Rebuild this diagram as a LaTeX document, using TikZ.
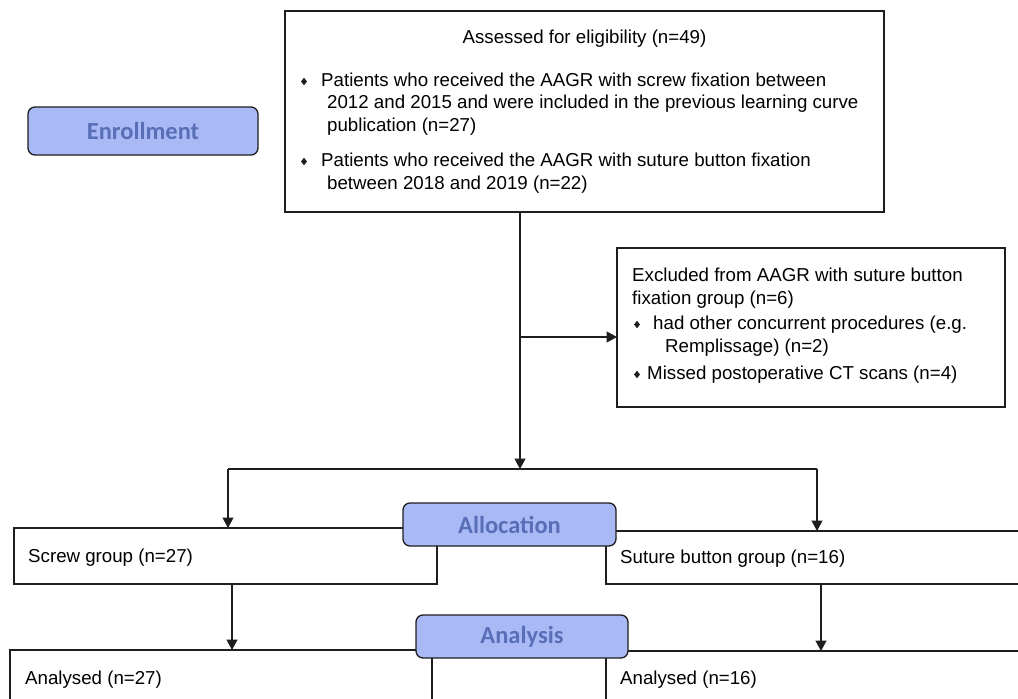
\documentclass[tikz,border=0pt]{standalone}
\usepackage{fontspec}
\setmainfont{Liberation Sans}
\newfontfamily\hdrfont{Carlito}
\usetikzlibrary{arrows.meta}
\definecolor{hdrfill}{RGB}{169,185,245}
\definecolor{hdrtext}{RGB}{88,110,182}
\definecolor{ln}{RGB}{30,30,30}
\tikzset{
  flowbox/.style={draw=ln, line width=1.3pt, fill=white},
  hdrbox/.style={draw=ln, line width=1.3pt, fill=hdrfill, rounded corners=7pt},
  hdrlabel/.style={font=\hdrfont\bfseries\fontsize{24.5}{28}\selectfont, text=hdrtext, inner sep=0pt},
  txt/.style={font=\fontsize{18.7}{22}\selectfont, inner sep=0pt, anchor=base west},
  conn/.style={draw=ln, line width=1.3pt},
  arr/.style={conn, -{Triangle[length=10.5pt,width=11pt]}},
  bul/.style={fill=ln}
}
\newcommand\diambul[1]{\fill[bul] (#1) ++(0,-0.8) -- ++(3,-3.7) -- ++(-3,-3.7) -- ++(-3,3.7) -- cycle;}
\begin{document}
\begin{tikzpicture}[x=1pt,y=-1pt]
\clip (0,0) rectangle (1018,699);
\fill[white] (0,0) rectangle (1018,699);

% ---------- boxes ----------
\path[flowbox] (285,11) rectangle (884,212);
\node[inner sep=0pt, minimum width=599pt, minimum height=201pt, anchor=north west] (top) at (285,11) {};
\path[flowbox] (617,248) rectangle (1005,407);
\node[inner sep=0pt, minimum width=388pt, minimum height=159pt, anchor=north west] (excl) at (617,248) {};
\path[flowbox] (14,528) rectangle (437,584);
\node[inner sep=0pt, minimum width=423pt, minimum height=56pt, anchor=north west] (screw) at (14,528) {};
\path[flowbox] (606,531) rectangle (1030,584);
\node[inner sep=0pt, minimum width=424pt, minimum height=53pt, anchor=north west] (suture) at (606,531) {};
\path[flowbox] (10,650) rectangle (432,720);
\node[inner sep=0pt, minimum width=422pt, minimum height=70pt, anchor=north west] (anL) at (10,650) {};
\path[flowbox] (606,651) rectangle (1030,720);
\node[inner sep=0pt, minimum width=424pt, minimum height=69pt, anchor=north west] (anR) at (606,651) {};

% ---------- texts ----------
\node[txt, anchor=base] (t0) at (584.5,43) {Assessed for eligibility (n=49)};
\diambul{304,86}
\node[txt] (t1) at (321,86) {Patients who received the AAGR with screw fixation between};
\node[txt] (t2) at (327,108.5) {2012 and 2015 and were included in the previous learning curve};
\node[txt] (t3) at (327,131) {publication (n=27)};
\diambul{304,166}
\node[txt] (t4) at (321,166) {Patients who received the AAGR with suture button fixation};
\node[txt] (t5) at (327,189) {between 2018 and 2019 (n=22)};

\node[txt] (e1) at (632,281) {Excluded from AAGR with suture button};
\node[txt] (e2) at (632,304.5) {fixation group (n=6)};
\diambul{637,329}
\node[txt] (e3) at (653,329) {had other concurrent procedures (e.g.};
\node[txt] (e4) at (665,352.5) {Remplissage) (n=2)};
\diambul{637,379}
\node[txt] (e5) at (647,379) {Missed postoperative CT scans (n=4)};

\node[txt] (s1) at (28,562.5) {Screw group (n=27)};
\node[txt] (s2) at (620,563.5) {Suture button group (n=16)};
\node[txt] (a1) at (25,684) {Analysed (n=27)};
\node[txt] (a2) at (620,684) {Analysed (n=16)};

% ---------- connectors ----------
\coordinate (j1) at (520,469);
\coordinate (jl) at (228,469);
\coordinate (jr) at (817,469);
\coordinate (ea) at (520,337);
\coordinate (dl) at (232,600);
\coordinate (dr) at (821,600);
\draw[arr] (top.south -| j1) -- (j1);
\draw[conn] (jl) -- (jr);
\draw[arr] (ea) -- (excl.west |- ea);
\draw[arr] (jl) -- (jl |- screw.north);
\draw[arr] (jr) -- (jr |- suture.north);
\draw[arr] (screw.south -| dl) -- (dl |- anL.north);
\draw[arr] (suture.south -| dr) -- (dr |- anR.north);

% ---------- phase headers ----------
\path[hdrbox] (28,107) rectangle (258,155);
\node[hdrlabel] (enroll) at (143,131) {Enrollment};
\path[hdrbox] (403,503) rectangle (616,546);
\node[hdrlabel] (alloc) at (509.5,525) {Allocation};
\path[hdrbox] (416,615) rectangle (628,658);
\node[hdrlabel] (analysis) at (522,637) {Analysis};
\end{tikzpicture}
\end{document}
